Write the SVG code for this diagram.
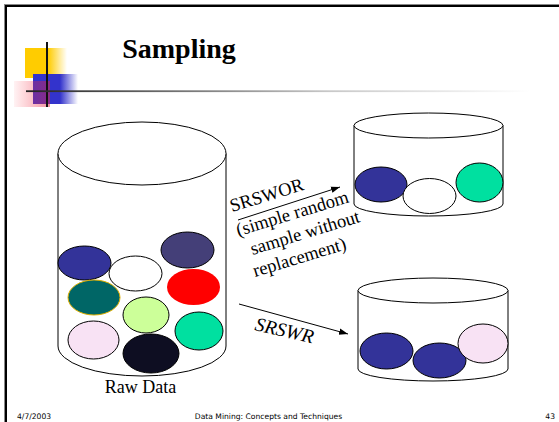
<svg xmlns="http://www.w3.org/2000/svg" width="559" height="422" viewBox="0 0 559 422">
<defs>
<linearGradient id="gy" x1="25" y1="0" x2="67" y2="0" gradientUnits="userSpaceOnUse"><stop offset="0" stop-color="#FFCC00"/><stop offset="0.55" stop-color="#FFCC00"/><stop offset="1" stop-color="#FFCC00" stop-opacity="0"/></linearGradient>
<linearGradient id="gb" x1="33" y1="0" x2="78" y2="0" gradientUnits="userSpaceOnUse"><stop offset="0" stop-color="#3333CC"/><stop offset="0.6" stop-color="#3333CC"/><stop offset="1" stop-color="#3333CC" stop-opacity="0"/></linearGradient>
<linearGradient id="gr" x1="14" y1="0" x2="50" y2="0" gradientUnits="userSpaceOnUse"><stop offset="0" stop-color="#FF3344" stop-opacity="0.06"/><stop offset="1" stop-color="#E02040" stop-opacity="0.5"/></linearGradient>
<linearGradient id="gl" x1="26" y1="0" x2="530" y2="0" gradientUnits="userSpaceOnUse"><stop offset="0" stop-color="#222"/><stop offset="0.35" stop-color="#808080"/><stop offset="0.6" stop-color="#c8c8c8"/><stop offset="1" stop-color="#fff"/></linearGradient>
<marker id="arr" markerWidth="10" markerHeight="8" refX="9" refY="4" orient="auto" markerUnits="userSpaceOnUse"><path d="M0,0.8 L9,4 L0,7.2 Z" fill="#000"/></marker>
<style>
.cyl{fill:#fff;stroke:#000;stroke-width:1}
.ball{stroke:#000;stroke-width:1}
.serif{font-family:"Liberation Serif","Times New Roman",serif;fill:#000}
.foot{font-family:"DejaVu Sans",Tahoma,sans-serif;font-size:7.6px;fill:#000}
.conn{stroke:#000;stroke-width:1;fill:none;marker-end:url(#arr)}
</style>
</defs>
<rect width="559" height="422" fill="#fff"/>
<!-- frame -->
<rect x="4" y="4" width="555" height="1" fill="#888"/>
<rect x="4" y="5" width="555" height="2" fill="#000"/>
<rect x="4" y="4" width="1" height="418" fill="#888"/>
<rect x="5" y="5" width="2" height="417" fill="#000"/>
<!-- logo -->
<g id="logo">
<rect x="25" y="48" width="42" height="30" fill="url(#gy)"/>
<rect x="33" y="74" width="45" height="30" fill="url(#gb)"/>
<rect x="14" y="81" width="36" height="26" fill="url(#gr)"/>
<rect x="46" y="42" width="2" height="65" fill="#111"/>
<rect x="26" y="90.3" width="533" height="1.8" fill="url(#gl)"/>
</g>
<text class="serif" x="179" y="58" font-size="28" font-weight="bold" text-anchor="middle">Sampling</text>

<g id="raw-data">
<path class="cyl" d="M58,153.5 L58,346 A84,30 0 0 0 226,346 L226,153.5"/>
<ellipse class="cyl" cx="142" cy="153.5" rx="84" ry="31.5"/>
<ellipse class="ball" cx="84.5" cy="263" rx="26.5" ry="17" fill="#333399"/>
<ellipse class="ball" cx="135.5" cy="273.5" rx="26.5" ry="17.5" fill="#fff"/>
<ellipse class="ball" cx="187.5" cy="250" rx="26.5" ry="18" fill="#443f78"/>
<ellipse cx="94" cy="297.5" rx="26" ry="17.5" fill="#006666" stroke="#e0b000" stroke-width="1"/>
<ellipse cx="193.5" cy="287" rx="26.5" ry="18" fill="#ff0000"/>
<ellipse class="ball" cx="146" cy="315" rx="23" ry="18" fill="#ccff99"/>
<ellipse class="ball" cx="199" cy="331" rx="24" ry="19" fill="#00e0a0"/>
<ellipse class="ball" cx="93.5" cy="340" rx="25.5" ry="19" fill="#f8e2f4"/>
<ellipse class="ball" cx="151" cy="353.5" rx="28" ry="19.5" fill="#0e0e22"/>
<text class="serif" x="140.5" y="393" font-size="18" text-anchor="middle">Raw Data</text>
</g>

<g id="srswor-sample">
<path class="cyl" d="M354,125.5 L354,204 A74.5,12 0 0 0 503,204 L503,125.5"/>
<ellipse class="cyl" cx="428.5" cy="125.5" rx="74.5" ry="12.5"/>
<ellipse class="ball" cx="381" cy="184.5" rx="26" ry="17.5" fill="#333399"/>
<ellipse class="ball" cx="429.5" cy="196" rx="26.5" ry="17.5" fill="#fff"/>
<ellipse class="ball" cx="479.5" cy="182.5" rx="23.5" ry="19.5" fill="#00e0a0"/>
</g>

<g id="srswr-sample">
<path class="cyl" d="M358,290.5 L358,369 A75,12 0 0 0 508,369 L508,290.5"/>
<ellipse class="cyl" cx="433" cy="290.5" rx="75" ry="12.5"/>
<ellipse class="ball" cx="386.5" cy="351" rx="26.5" ry="18" fill="#333399"/>
<ellipse class="ball" cx="439.5" cy="360.5" rx="26.5" ry="17.5" fill="#333399"/>
<ellipse class="ball" cx="483" cy="343.5" rx="25" ry="19.5" fill="#f8e2f4"/>
</g>

<g id="connectors">
<line class="conn" x1="238" y1="220" x2="340" y2="187"/>
<line class="conn" x1="239" y1="304" x2="348" y2="334"/>
<g class="serif" font-size="18.5" transform="translate(232,212) rotate(-17)">
<text x="0" y="0">SRSWOR</text>
<text x="-1" y="25">(simple random</text>
<text x="7" y="47">sample without</text>
<text x="3" y="69">replacement)</text>
</g>
<text class="serif" font-size="19.5" font-style="italic" transform="translate(254,330) rotate(13)">SRSWR</text>
</g>

<text class="foot" x="17" y="418.5">4/7/2003</text>
<text class="foot" x="268.5" y="418.5" text-anchor="middle">Data Mining: Concepts and Techniques</text>
<text class="foot" x="555" y="418.5" text-anchor="end">43</text>
</svg>
